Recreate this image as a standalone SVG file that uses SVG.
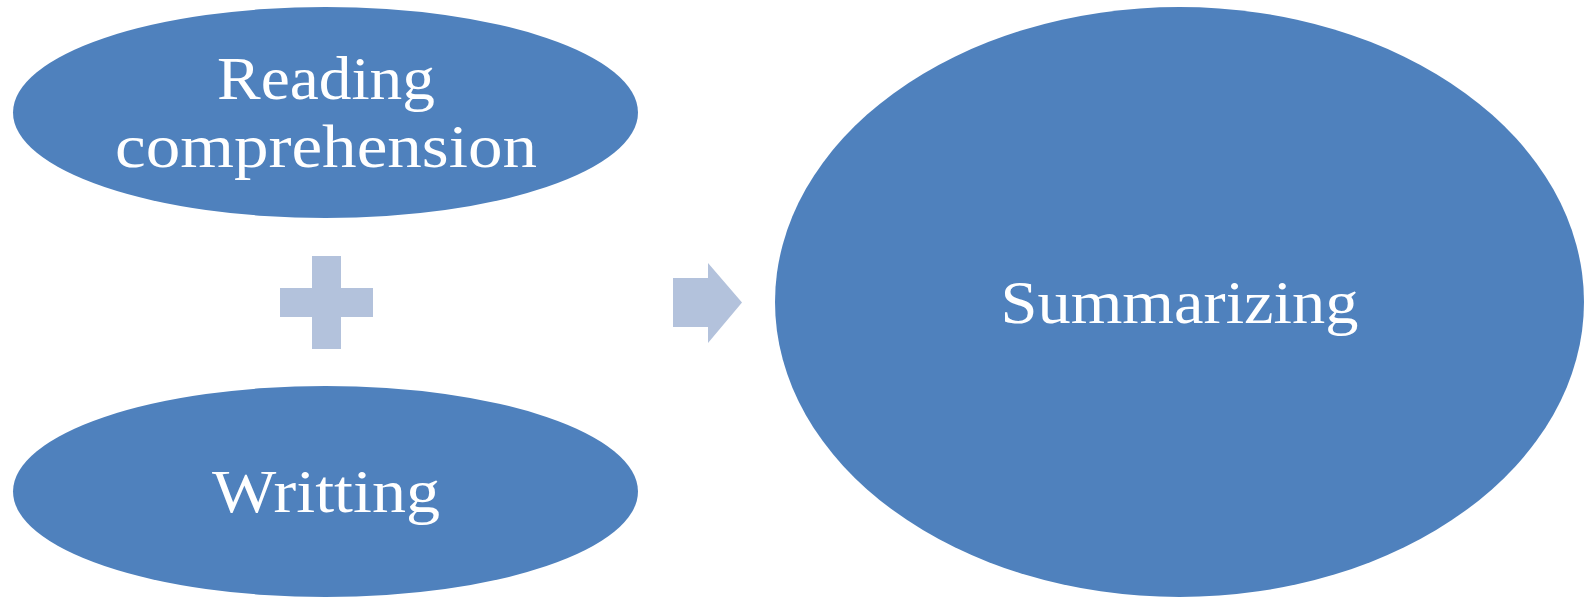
<svg xmlns="http://www.w3.org/2000/svg" width="1585" height="600" viewBox="0 0 1585 600">
  <style>
    .node { fill: #4F81BD; }
    .op { fill: #B3C2DC; }
    .label { fill: #FFFFFF; font-family: "Liberation Serif", "DejaVu Serif", serif; font-size: 62px; text-anchor: middle; }
  </style>
  <rect width="1585" height="600" fill="#FFFFFF"/>

  <g id="node-reading">
    <ellipse class="node" cx="325.5" cy="112.5" rx="312.5" ry="105.5"/>
    <text class="label" x="326" y="99" textLength="218" lengthAdjust="spacingAndGlyphs">Reading</text>
    <text class="label" x="326" y="167" textLength="422" lengthAdjust="spacingAndGlyphs">comprehension</text>
  </g>

  <g id="node-writing">
    <ellipse class="node" cx="325.5" cy="491.5" rx="312.5" ry="105.5"/>
    <text class="label" x="326" y="512" textLength="228" lengthAdjust="spacingAndGlyphs">Writting</text>
  </g>

  <g id="node-summarizing">
    <ellipse class="node" cx="1179.5" cy="302" rx="404.5" ry="295"/>
    <text class="label" x="1179.5" y="323" textLength="358" lengthAdjust="spacingAndGlyphs">Summarizing</text>
  </g>

  <g id="connectors">
    <!-- plus sign between the two inputs -->
    <path class="op" d="M312,256 H341 V288 H373 V317 H341 V349 H312 V317 H280 V288 H312 Z"/>
    <!-- arrow toward the result -->
    <path class="op" d="M673,278 H708 V263 L742,302.5 L708,343 V327 H673 Z"/>
  </g>
</svg>
